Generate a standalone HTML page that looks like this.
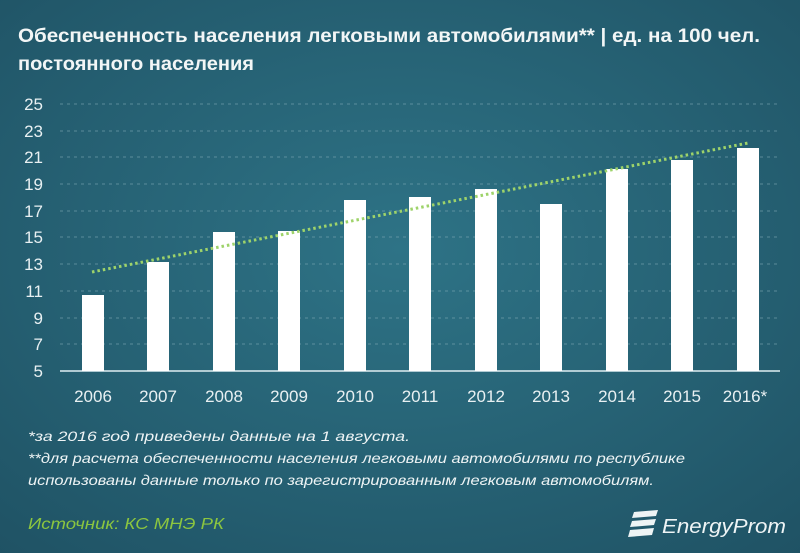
<!DOCTYPE html>
<html><head><meta charset="utf-8"><style>
html,body{margin:0;padding:0;width:800px;height:553px;overflow:hidden}
</style></head><body>
<svg width="800" height="553" xmlns="http://www.w3.org/2000/svg" font-family="Liberation Sans, sans-serif">
<defs>
<radialGradient id="bg" cx="0.5" cy="0.45" r="0.75">
<stop offset="0" stop-color="#2e7386"/>
<stop offset="1" stop-color="#1f5264"/>
</radialGradient>
</defs>
<rect width="800" height="553" fill="url(#bg)"/>
<text x="18" y="42" fill="#f2f6f6" font-size="19" font-weight="bold" textLength="742" lengthAdjust="spacingAndGlyphs">Обеспеченность населения легковыми автомобилями** | ед. на 100 чел.</text>
<text x="18" y="70" fill="#f2f6f6" font-size="19" font-weight="bold" textLength="236" lengthAdjust="spacingAndGlyphs">постоянного населения</text>
<g stroke="#7fa9b5" stroke-width="1" stroke-dasharray="3,4" opacity="0.6">
<line x1="60" x2="780" y1="104" y2="104"/><line x1="60" x2="780" y1="131" y2="131"/>
<line x1="60" x2="780" y1="157" y2="157"/><line x1="60" x2="780" y1="184" y2="184"/>
<line x1="60" x2="780" y1="211" y2="211"/><line x1="60" x2="780" y1="237" y2="237"/>
<line x1="60" x2="780" y1="264" y2="264"/><line x1="60" x2="780" y1="291" y2="291"/>
<line x1="60" x2="780" y1="318" y2="318"/><line x1="60" x2="780" y1="344" y2="344"/>
</g>
<line x1="60" x2="780" y1="371" y2="371" stroke="#dfeef2" stroke-width="1.5"/>
<g fill="#e8f0f2" font-size="17" text-anchor="end">
<text x="43" y="110">25</text><text x="43" y="137">23</text><text x="43" y="163">21</text>
<text x="43" y="190">19</text><text x="43" y="217">17</text><text x="43" y="243">15</text>
<text x="43" y="270">13</text><text x="43" y="297">11</text><text x="43" y="324">9</text>
<text x="43" y="350">7</text><text x="43" y="377">5</text>
</g>
<g fill="#ffffff">
<rect x="82" y="295" width="22" height="76"/>
<rect x="147" y="262" width="22" height="109"/>
<rect x="213" y="232" width="22" height="139"/>
<rect x="278" y="231" width="22" height="140"/>
<rect x="344" y="200" width="22" height="171"/>
<rect x="409" y="197" width="22" height="174"/>
<rect x="475" y="189" width="22" height="182"/>
<rect x="540" y="204" width="22" height="167"/>
<rect x="606" y="169" width="22" height="202"/>
<rect x="671" y="160" width="22" height="211"/>
<rect x="737" y="148" width="22" height="223"/>
</g>
<line x1="92" y1="272" x2="748" y2="143" stroke="#9ed36a" stroke-width="3" stroke-dasharray="2.5,3"/>
<g fill="#e8f0f2" font-size="17" text-anchor="middle">
<text x="93" y="402">2006</text><text x="158" y="402">2007</text><text x="224" y="402">2008</text>
<text x="289" y="402">2009</text><text x="355" y="402">2010</text><text x="420" y="402">2011</text>
<text x="486" y="402">2012</text><text x="551" y="402">2013</text><text x="617" y="402">2014</text>
<text x="682" y="402">2015</text><text x="745" y="402">2016*</text>
</g>
<g fill="#eef4f5" font-size="14" font-style="italic">
<text x="28" y="441" textLength="382" lengthAdjust="spacingAndGlyphs">*за 2016 год приведены данные на 1 августа.</text>
<text x="28" y="463" textLength="657" lengthAdjust="spacingAndGlyphs">**для расчета обеспеченности населения легковыми автомобилями по республике</text>
<text x="28" y="485" textLength="626" lengthAdjust="spacingAndGlyphs">использованы данные только по зарегистрированным легковым автомобилям.</text>
</g>
<text x="28" y="529" fill="#8cc63f" font-size="16" font-style="italic" textLength="196" lengthAdjust="spacingAndGlyphs">Источник: КС МНЭ РК</text>
<g fill="#eef4f5">
<polygon points="634,512 658,510 656,516 632,518"/>
<polygon points="632,521 656,519 654,525 630,527"/>
<polygon points="630,530 654,528 652,535 628,537"/>
</g>
<text x="662" y="533" fill="#eef4f5" font-size="20" font-style="italic" textLength="124" lengthAdjust="spacingAndGlyphs">EnergyProm</text>
</svg>
</body></html>
